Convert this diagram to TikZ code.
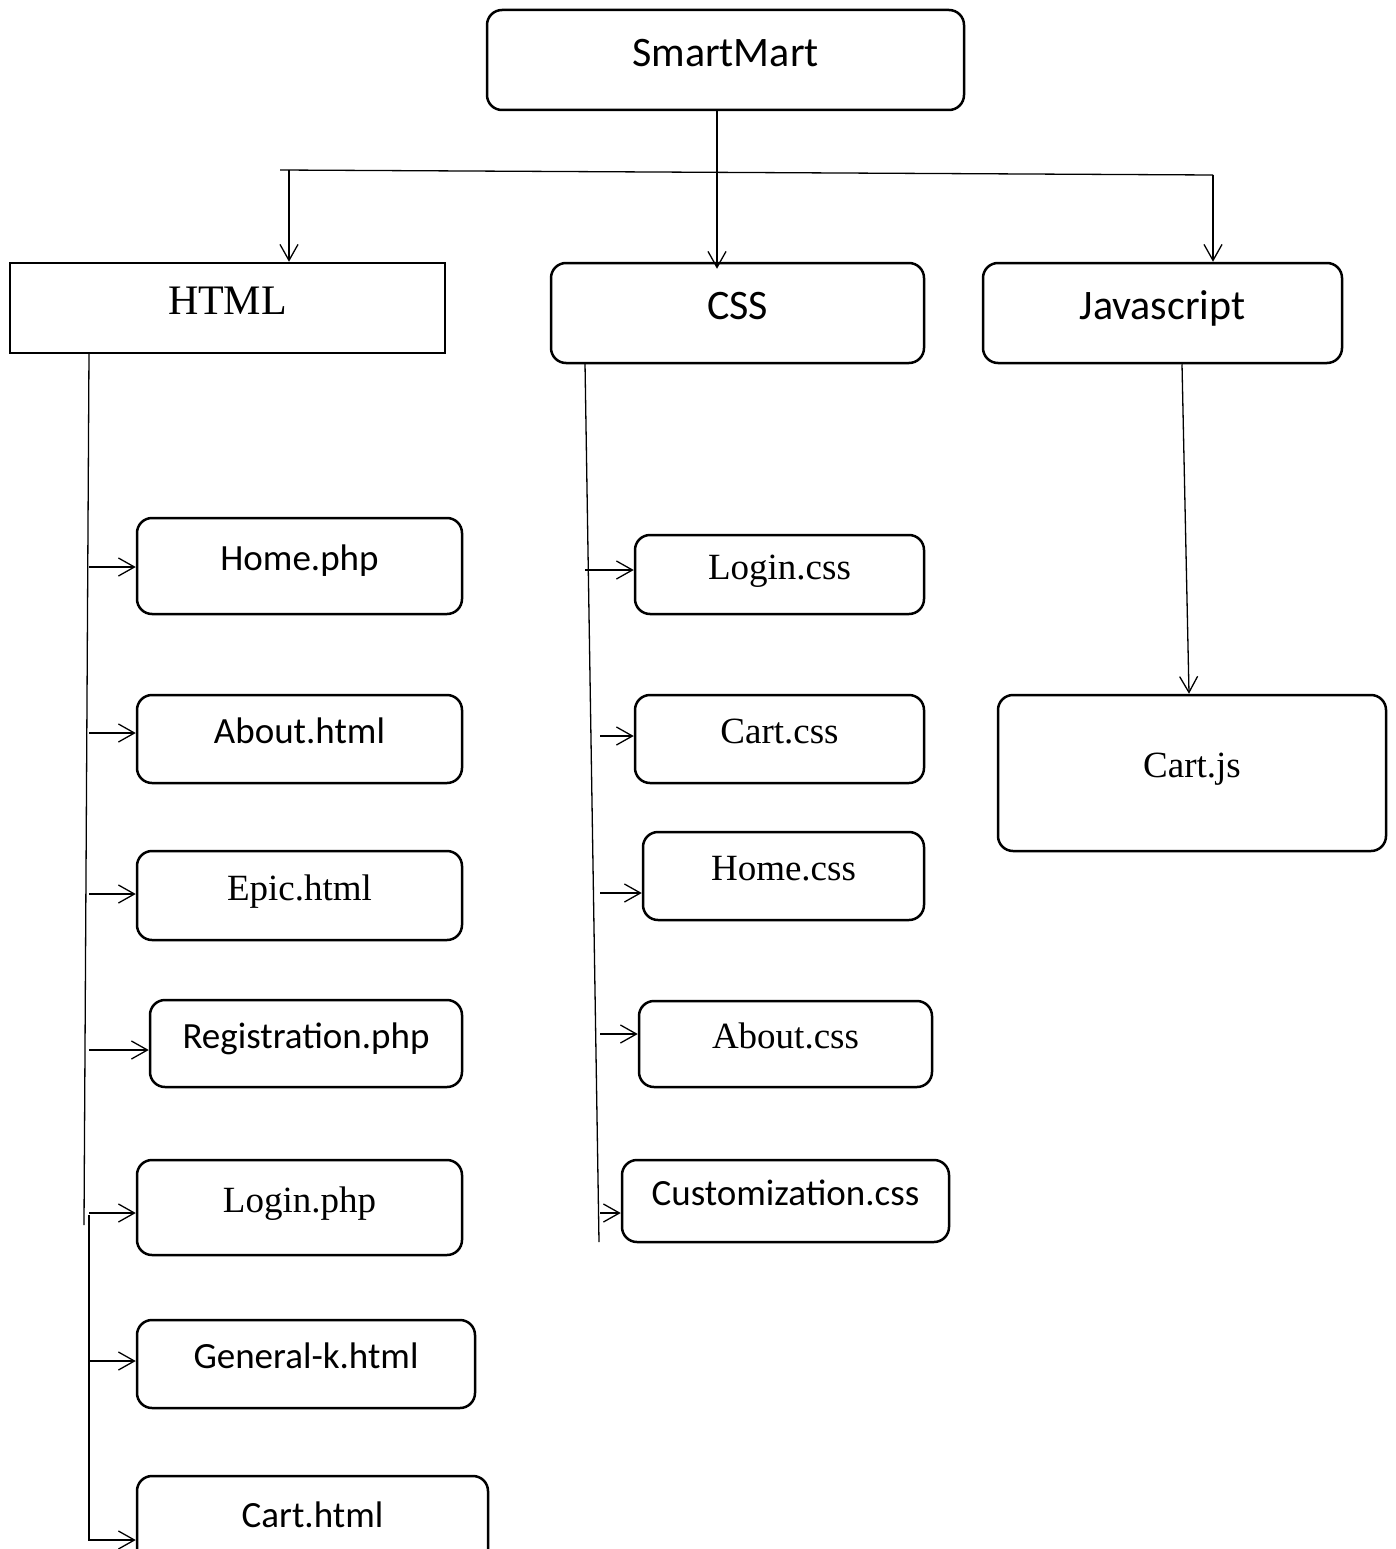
\documentclass[tikz,border=0pt]{standalone}
\usepackage{fontspec}
\setmainfont{Liberation Serif}
\newfontfamily\calibri{Carlito}
\usetikzlibrary{arrows.meta}
\tikzset{
  box/.style={draw, line width=2.5pt, rounded corners=15pt, inner sep=0pt},
  sharpbox/.style={box, rounded corners=0pt},
  bus/.style={line width=1.3pt},
  link/.style={bus, -{Straight Barb[length=16pt,width=18pt,line width=1.3pt]}},
  big/.style={text height=31pt, text depth=18pt},
  small/.style={text height=27pt, text depth=18pt},
  bigsans/.style={big, font=\calibri\fontsize{42}{46}\selectfont},
  bigserif/.style={big, font=\fontsize{42}{46}\selectfont},
  sans/.style={small, font=\calibri\fontsize{37}{40}\selectfont},
  serif/.style={small, font=\fontsize{37}{40}\selectfont}
}
\begin{document}
\begin{tikzpicture}[x=1pt, y=-1pt]
    \clip (0,0) rectangle (1396,1549);
    % top level
    \node[box, bigsans, minimum width=477pt, minimum height=100pt] (smart) at (725.5,60) {SmartMart};
    \node[sharpbox, bigserif, minimum width=435pt, minimum height=90pt] (html) at (227.5,308) {HTML};
    \node[box, bigsans, minimum width=373pt, minimum height=100pt] (css) at (737.5,313) {CSS};
    \node[box, bigsans, minimum width=359pt, minimum height=100pt] (js) at (1162.5,313) {Javascript};
    % html files
    \node[box, sans, minimum width=325pt, minimum height=96pt] (home) at (299.5,566) {Home.php};
    \node[box, sans, minimum width=325pt, minimum height=88pt] (about) at (299.5,739) {About.html};
    \node[box, serif, minimum width=325pt, minimum height=89pt] (epic) at (299.5,895.5) {Epic.html};
    \node[box, sans, minimum width=312pt, minimum height=87pt] (reg) at (306,1043.5) {Registration.php};
    \node[box, serif, minimum width=325pt, minimum height=95pt] (login) at (299.5,1207.5) {Login.php};
    \node[box, sans, minimum width=338pt, minimum height=88pt] (general) at (306,1364) {General-k.html};
    \node[box, sans, minimum width=351pt, minimum height=94pt] (cart) at (312.5,1523) {Cart.html};
    % css files
    \node[box, serif, minimum width=289pt, minimum height=79pt] (logincss) at (779.5,574.5) {Login.css};
    \node[box, serif, minimum width=289pt, minimum height=88pt] (cartcss) at (779.5,739) {Cart.css};
    \node[box, serif, minimum width=281pt, minimum height=88pt] (homecss) at (783.5,876) {Home.css};
    \node[box, serif, minimum width=293pt, minimum height=86pt] (aboutcss) at (785.5,1044) {About.css};
    \node[box, sans, minimum width=327pt, minimum height=82pt] (custom) at (785.5,1201) {Customization.css};
    % js file
    \node[box, serif, minimum width=388pt, minimum height=156pt] (cartjs) at (1192,773) {Cart.js};

    % bus from SmartMart
    \coordinate (busL) at (280,170);
    \coordinate (busH) at (289,170);
    \coordinate (busR) at (1213,175);
    \draw[bus] (busL) -- (busR);
    \draw[link] (busH) -- (busH |- html.north);
    \draw[link] (busR) -- (busR |- js.north);
    \draw[link] ([xshift=-8.5pt]smart.south) -- ([xshift=-20.5pt,yshift=-7pt]css.north);

    % html trunk
    \coordinate (htop) at (89,353);
    \coordinate (hbot) at (84,1225);
    \draw[bus] (htop) -- (hbot);
    \foreach \n/\y in {home/567, about/733, epic/894, reg/1050, login/1213, general/1361} {
      \coordinate (t\n) at (89,\y);
      \draw[link] (t\n) -- (\n.west |- t\n);
    }
    \coordinate (h2top) at (89,1215);
    \coordinate (h2bot) at (89,1540);
    \draw[link] (h2top) -- (h2bot) -- (cart.west |- h2bot);

    % css trunk
    \coordinate (ctop) at (585,363);
    \coordinate (cbot) at (599,1242);
    \draw[bus] (ctop) -- (cbot);
    \coordinate (tlogincss) at (585,570);
    \draw[link] (tlogincss) -- (logincss.west |- tlogincss);
    \foreach \n/\y in {cartcss/736, homecss/893, aboutcss/1034, custom/1213} {
      \coordinate (t\n) at (600,\y);
      \draw[link] (t\n) -- (\n.west |- t\n);
    }

    % js
    \draw[link] ([xshift=19.5pt]js.south) -- ([xshift=-3pt]cartjs.north);
\end{tikzpicture}
\end{document}
